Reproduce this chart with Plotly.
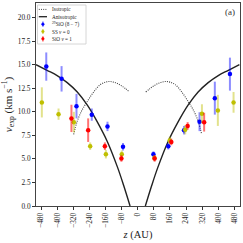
import plotly.graph_objects as go

# ---- data ----
blue_z = [-454, -378, -304, -228, -150, -73, 78, 152, 230, 307, 383, 458]
blue_v = [14.8, 13.5, 10.6, 9.7, 8.45, 6.3, 5.5, 6.35, 8.05, 8.95, 11.45, 14.0]
blue_e = [1.5, 1.35, 1.3, 0.65, 0.5, 0.4, 0.3, 0.35, 0.45, 1.0, 1.75, 1.75]

yel_z = [-476, -393, -317, -236, -158, -79, 83, 159, 236, 319, 398, 476]
yel_v = [11.0, 9.75, 8.9, 6.35, 5.5, 5.5, 5.1, 6.95, 8.1, 9.8, 10.15, 11.0]
yel_e = [1.6, 0.6, 1.1, 0.4, 0.45, 0.4, 0.3, 0.4, 0.5, 1.0, 1.65, 1.1]

red_z = [-329, -246, -163, -81, 84, 167, 248, 330]
red_v = [9.3, 8.05, 6.35, 5.05, 5.05, 6.8, 8.5, 8.9]
red_e = [1.45, 1.25, 0.4, 0.35, 0.35, 0.35, 0.4, 1.0]

aniso_left_z = [-505, -450, -400, -350, -300, -250, -200, -150, -100, -70, -38]
aniso_left_v = [15.0, 14.4, 13.85, 13.1, 12.1, 10.7, 8.9, 6.8, 4.1, 2.2, 0.0]
aniso_right_z = [38, 70, 100, 150, 200, 250, 300, 350, 400, 450, 505]
aniso_right_v = [0.0, 2.2, 4.1, 6.8, 8.9, 10.7, 12.1, 13.1, 13.85, 14.4, 15.0]

iso_left_z = [-318, -301, -276, -251, -218, -185, -160, -140, -120, -100, -80, -60, -40]
iso_left_v = [7.6, 8.95, 10.2, 11.07, 12.13, 12.9, 13.15, 13.22, 13.15, 13.0, 12.75, 12.45, 12.1]
iso_right_z = [40, 60, 80, 100, 120, 140, 160, 185, 218, 251, 276, 301, 318]
iso_right_v = [12.1, 12.45, 12.75, 13.0, 13.15, 13.22, 13.15, 12.9, 12.13, 11.07, 10.2, 8.95, 7.6]

x_ticks = [-480, -400, -320, -240, -160, -80, 0, 80, 160, 240, 320, 400, 480]
y_ticks = [0, 2.5, 5, 7.5, 10, 12.5, 15, 17.5, 20]

legend_labels = ["Isotropic", "Anisotropic", "<sup>29</sup>SiO (8 − 7)", "SS <i>v</i> = 0", "SiO <i>v</i> = 1"]

BLUE = "#0000ff"
YEL = "#bfbf00"
RED = "#ff0000"
FONT = "Liberation Serif"

fig = go.Figure()

for zz, vv in [(iso_left_z, iso_left_v), (iso_right_z, iso_right_v)]:
    fig.add_trace(go.Scatter(x=zz, y=vv, mode="lines", line=dict(color="#444", width=1.1, dash="1px,1.2px", shape="spline"),
                             showlegend=False, hoverinfo="skip"))
for zz, vv in [(aniso_left_z, aniso_left_v), (aniso_right_z, aniso_right_v)]:
    fig.add_trace(go.Scatter(x=zz, y=vv, mode="lines", line=dict(color="#222", width=1.4, shape="spline"),
                             showlegend=False, hoverinfo="skip"))

def add_pts(zz, vv, ee, col, rgba):
    fig.add_trace(go.Scatter(x=zz, y=vv, mode="markers", marker=dict(color=col, size=4.5),
                             error_y=dict(type="data", array=ee, color=rgba, thickness=2, width=0),
                             showlegend=False))

add_pts(blue_z, blue_v, blue_e, BLUE, "rgba(0,0,255,0.45)")
add_pts(yel_z, yel_v, yel_e, YEL, "rgba(191,191,0,0.45)")
add_pts(red_z, red_v, red_e, RED, "rgba(255,0,0,0.55)")

# ---- manual legend (paper coordinates) ----
W, H, L, T = 204.0, 203.0, 36.0, 3.0
def px(x):
    return (x - L) / W
def py(y):
    return 1 - (y - T) / H

shapes = [dict(type="rect", xref="paper", yref="paper", x0=px(37.5), x1=px(86), y0=py(44), y1=py(5),
               line=dict(color="#cccccc", width=0.8), fillcolor="rgba(255,255,255,0.85)", layer="above")]
rows = [9.4, 16.7, 24.2, 31.5, 38.8]
shapes.append(dict(type="line", xref="paper", yref="paper", x0=px(38.8), x1=px(47), y0=py(rows[0]), y1=py(rows[0]),
                   line=dict(color="#444", width=1, dash="1px,1.2px"), layer="above"))
shapes.append(dict(type="line", xref="paper", yref="paper", x0=px(38.8), x1=px(47), y0=py(rows[1]), y1=py(rows[1]),
                   line=dict(color="#222", width=1.3), layer="above"))
for r, col, rgba in [(rows[2], BLUE, "rgba(0,0,255,0.5)"), (rows[3], YEL, "rgba(191,191,0,0.5)"), (rows[4], RED, "rgba(255,0,0,0.55)")]:
    shapes.append(dict(type="line", xref="paper", yref="paper", x0=px(42.9), x1=px(42.9), y0=py(r + 2.6), y1=py(r - 2.6),
                       line=dict(color=rgba, width=1.6), layer="above"))
    shapes.append(dict(type="circle", xref="paper", yref="paper", x0=px(41.6), x1=px(44.2), y0=py(r + 1.3), y1=py(r - 1.3),
                       line=dict(color=col, width=0.5), fillcolor=col, layer="above"))

annotations = []
for r, lab in zip(rows, legend_labels):
    annotations.append(dict(xref="paper", yref="paper", x=px(49.5), y=py(r), text=lab, showarrow=False,
                            xanchor="left", yanchor="middle", font=dict(family=FONT, size=5.2, color="#222")))
annotations.append(dict(xref="paper", yref="paper", x=px(237), y=py(12), text="(a)", showarrow=False,
                        xanchor="right", yanchor="middle", font=dict(family=FONT, size=9, color="#333")))

fig.update_layout(
    width=243, height=243,
    margin=dict(l=36, r=3, t=3, b=37),
    paper_bgcolor="white", plot_bgcolor="white",
    font=dict(family=FONT, size=7, color="#222"),
    shapes=shapes, annotations=annotations,
    showlegend=False,
)
fig.update_xaxes(range=[-505, 508], tickvals=x_ticks, ticktext=[("−" if t < 0 else "") + str(abs(t)) for t in x_ticks],
                 tickangle=-90, ticks="outside", ticklen=3, tickwidth=0.8, tickcolor="#333",
                 showgrid=False, zeroline=False, showline=True, linecolor="#444", linewidth=1, mirror=True,
                 tickfont=dict(family=FONT, size=7.3),
                 title=dict(text="<i>z</i> (AU)", font=dict(family=FONT, size=10.5), standoff=3))
fig.update_yaxes(range=[0, 21.55], tickvals=y_ticks, ticktext=["%.1f" % t for t in y_ticks],
                 ticks="outside", ticklen=3, tickwidth=0.8, tickcolor="#333",
                 showgrid=False, zeroline=False, showline=True, linecolor="#444", linewidth=1, mirror=True,
                 tickfont=dict(family=FONT, size=7.3),
                 title=dict(text="<i>v</i><sub>exp</sub> (km s<sup>−1</sup>)", font=dict(family=FONT, size=11), standoff=3))

fig.write_html("out.html", config={"displayModeBar": False},
               post_script="document.body.style.margin='0px';document.body.style.padding='0px';")
